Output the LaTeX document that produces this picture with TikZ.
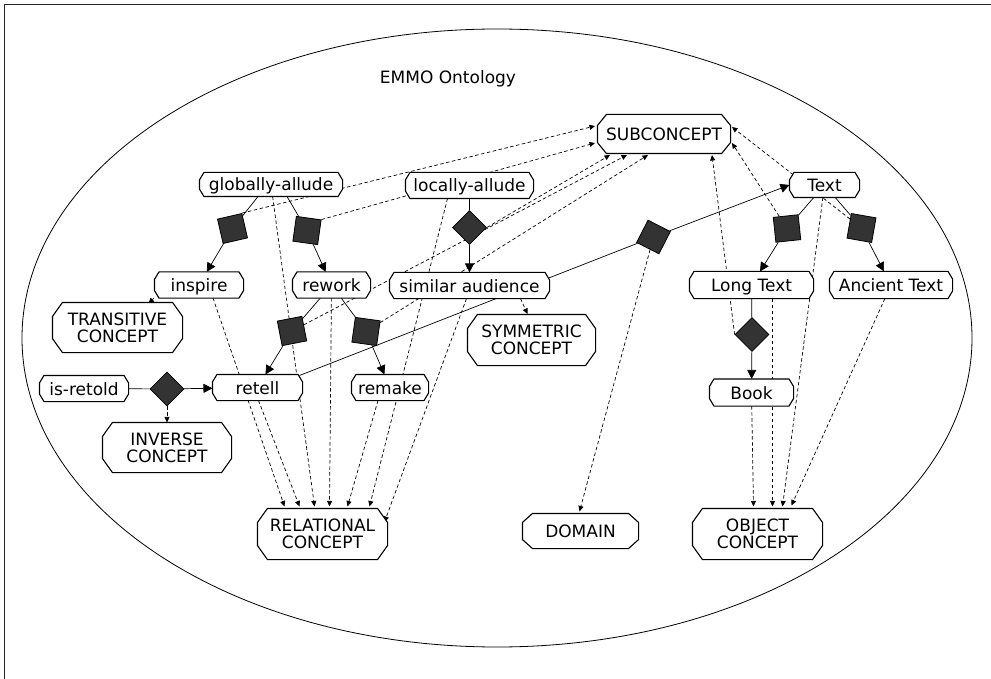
\documentclass[tikz,border=0pt]{standalone}
\usepackage{fontspec}
\setmainfont{DejaVu Sans}
\usetikzlibrary{shapes.geometric,arrows.meta,calc,backgrounds}

% A rectangle with bevelled corners; the bevel extents are set by
% /pgf/bevel x and /pgf/bevel y.
\pgfkeys{/pgf/bevel x/.initial=4.5pt, /pgf/bevel y/.initial=7pt}
\makeatletter
\pgfdeclareshape{bevelbox}{%
  \inheritsavedanchors[from=rectangle]%
  \inheritanchorborder[from=rectangle]%
  \inheritanchor[from=rectangle]{center}%
  \inheritanchor[from=rectangle]{north}%
  \inheritanchor[from=rectangle]{south}%
  \inheritanchor[from=rectangle]{east}%
  \inheritanchor[from=rectangle]{west}%
  \inheritanchor[from=rectangle]{north east}%
  \inheritanchor[from=rectangle]{north west}%
  \inheritanchor[from=rectangle]{south east}%
  \inheritanchor[from=rectangle]{south west}%
  \inheritanchor[from=rectangle]{text}%
  \inheritanchor[from=rectangle]{base}%
  \inheritanchor[from=rectangle]{mid}%
  \saveddimen\bevx{\pgfmathsetlength\pgf@x{\pgfkeysvalueof{/pgf/bevel x}}}%
  \saveddimen\bevy{\pgfmathsetlength\pgf@x{\pgfkeysvalueof{/pgf/bevel y}}}%
  \backgroundpath{%
    \southwest \edef\bbxa{\the\pgf@x}\edef\bbya{\the\pgf@y}%
    \northeast \edef\bbxb{\the\pgf@x}\edef\bbyb{\the\pgf@y}%
    \pgfmathsetlengthmacro\bbxc{\bbxa+\bevx}%
    \pgfmathsetlengthmacro\bbxd{\bbxb-\bevx}%
    \pgfmathsetlengthmacro\bbyc{\bbya+\bevy}%
    \pgfmathsetlengthmacro\bbyd{\bbyb-\bevy}%
    \pgfpathmoveto{\pgfpoint{\bbxc}{\bbya}}%
    \pgfpathlineto{\pgfpoint{\bbxd}{\bbya}}%
    \pgfpathlineto{\pgfpoint{\bbxb}{\bbyc}}%
    \pgfpathlineto{\pgfpoint{\bbxb}{\bbyd}}%
    \pgfpathlineto{\pgfpoint{\bbxd}{\bbyb}}%
    \pgfpathlineto{\pgfpoint{\bbxc}{\bbyb}}%
    \pgfpathlineto{\pgfpoint{\bbxa}{\bbyd}}%
    \pgfpathlineto{\pgfpoint{\bbxa}{\bbyc}}%
    \pgfpathclose
  }%
}
\makeatother

\begin{document}
\begin{tikzpicture}[x=1pt,y=-1pt,
  font=\fontsize{17}{17}\selectfont,
  sz/.style 2 args={minimum width=#1pt, minimum height=#2pt},
  bev/.style 2 args={/pgf/bevel x=#1pt, /pgf/bevel y=#2pt},
  box/.style={bevelbox, draw, line width=1.1pt, fill=white, inner sep=0pt,
    bev={4.5}{7.5}, text height=13pt, text depth=0pt},
  bigbox/.style={bevelbox, draw, line width=1.1pt, fill=white, inner sep=0pt,
    align=center, bev={10}{14}},
  relsq/.style={rectangle, draw, line width=0.8pt, fill=black!80, minimum size=25pt, inner sep=0pt},
  reldia/.style={diamond, draw, line width=0.8pt, fill=black!80, minimum width=34pt, minimum height=34pt, inner sep=0pt},
  link/.style={line width=0.7pt},
  linkarr/.style={link, -{Triangle[length=9pt,width=9pt]}},
  dep/.style={line width=0.7pt, dash pattern=on 3.5pt off 2.5pt, -{Triangle[length=5.5pt,width=5pt]}},
]
\useasboundingbox (0,0) rectangle (991,679);

% frame
\draw[line width=1.6pt, black!85] (4.5,679) -- (4.5,4.5) -- (991,4.5);

% concept nodes
\node (title) at (448,79) {EMMO Ontology};
\node[bigbox, sz={132}{38}, bev={9}{11}] (sub) at (664,134) {SUBCONCEPT};
\node[box, sz={142}{23}] (ga) at (271,184.5) {globally-allude};
\node[box, sz={127}{25}] (la) at (469.5,185.5) {locally-allude};
\node[box, sz={69}{24}] (tx) at (824.5,185) {Text};
\node[box, sz={88}{25}] (insp) at (199,285) {inspire};
\node[box, sz={77}{25}] (rw) at (331.5,285) {rework};
\node[box, sz={159}{25}] (sa) at (469.5,285.5) {similar audience};
\node[box, sz={123}{26}] (lt) at (751.5,285) {Long Text};
\node[box, sz={122}{26}] (anc) at (891,285) {Ancient Text};
\node[bigbox, sz={129}{49}] (tc) at (117.5,327.5) {TRANSITIVE\\CONCEPT};
\node[bigbox, sz={127}{50}] (sym) at (531.5,340) {SYMMETRIC\\CONCEPT};
\node[box, sz={88}{25}] (isr) at (84,388.5) {is-retold};
\node[box, sz={89}{25}] (rt) at (257.5,387.5) {retell};
\node[box, sz={76}{25}] (rmk) at (390,387.5) {remake};
\node[box, sz={83}{26}] (bk) at (751.5,392.5) {Book};
\node[bigbox, sz={128}{49}] (inv) at (167,447.5) {INVERSE\\CONCEPT};
\node[bigbox, sz={129}{50}] (rc) at (322.5,534) {RELATIONAL\\CONCEPT};
\node[bigbox, sz={115}{34}, bev={10}{9}] (dom) at (580.5,531) {DOMAIN};
\node[bigbox, sz={129}{50}] (oc) at (757.5,534) {OBJECT\\CONCEPT};

% relation nodes
\node[relsq, rotate=13] (g1) at (232.5,228.5) {};
\node[relsq, rotate=-8] (g2) at (307,230.5) {};
\node[relsq, rotate=11] (r1) at (292,331) {};
\node[relsq, rotate=-8] (r2) at (366,331.5) {};
\node[relsq, rotate=6] (t1) at (787,228.5) {};
\node[relsq, rotate=-10] (t2) at (861.5,228) {};
\node[relsq, rotate=-27] (bq) at (653.5,237) {};
\node[reldia] (d1) at (469.5,227.5) {};
\node[reldia] (d2) at (167,389) {};
\node[reldia] (d3) at (752,334.5) {};

\begin{scope}[on background layer]
  \draw[line width=0.8pt] (497,338) ellipse [x radius=475pt, y radius=309pt];

  % relation links
  \draw[link] ($(ga.south)+(-13,0)$) -- (g1);
  \draw[linkarr] (g1) -- (insp);
  \draw[link] ($(ga.south)+(16,0)$) -- (g2);
  \draw[linkarr] (g2) -- (rw);
  \draw[link] (la) -- (d1);
  \draw[linkarr] (d1) -- (sa);
  \draw[link] (rw) -- (r1);
  \draw[linkarr] (r1) -- (rt);
  \draw[link] (rw) -- (r2);
  \draw[linkarr] (r2) -- (rmk);
  \draw[link] (isr) -- (d2);
  \draw[linkarr] (d2) -- (rt);
  \draw[link] ($(rt.center)+(42,-12)$) -- (bq);
  \draw[linkarr] (bq) -- (tx.west);
  \draw[link] (tx) -- (t1);
  \draw[linkarr] (t1) -- (lt);
  \draw[link] (tx) -- (t2);
  \draw[linkarr] (t2) -- (anc);
  \draw[link] (lt) -- (d3);
  \draw[linkarr] (d3) -- (bk);

  % subconcept links
  \draw[dep] (g1.north east) -- ($(sub.center)+(-69,-8)$);
  \draw[dep] (g2.north east) -- ($(sub.center)+(-69,9)$);
  \draw[dep] (d1.east) -- ($(sub.center)+(-54,21)$);
  \draw[dep] (r1) -- ($(sub.center)+(-37,21)$);
  \draw[dep] (r2) -- ($(sub.center)+(-16,21)$);
  \draw[dep] (d3.west) -- ($(sub.center)+(48,21)$);
  \draw[dep] (t1) -- ($(sub.center)+(68,9)$);
  \draw[dep] (t2) -- ($(sub.center)+(68,-7)$);

  % relational concept links
  \draw[dep] ($(insp.south)+(14,0)$) -- ($(rc.north)+(-38,-2)$);
  \draw[dep] ($(rt.south)+(1,0)$) -- ($(rc.north)+(-23,-2)$);
  \draw[dep] (ga) -- ($(rc.north)+(-8,-2)$);
  \draw[dep] (rw) -- ($(rc.north)+(7,-2)$);
  \draw[dep] ($(rmk.south)+(-12,0)$) -- ($(rc.north)+(25,-2)$);
  \draw[dep] ($(la.south)+(-22,0)$) -- ($(rc.north)+(47,-2)$);
  \draw[dep] ($(sa.south)+(-3,0)$) -- ($(rc.center)+(62,-12)$);

  % property links
  \draw[dep] ($(insp.center)+(-45,13)$) -- ($(tc.center)+(31,-24)$);
  \draw[dep] ($(sa.center)+(51,13)$) -- ($(sym.center)+(-4,-26)$);
  \draw[dep] (d2) -- (inv);
  \draw[dep] (bq) -- ($(dom.north)+(-1,-2)$);

  % object concept links
  \draw[dep] (bk) -- ($(oc.north)+(-4,-2)$);
  \draw[dep] ($(lt.south)+(21,0)$) -- ($(oc.north)+(15,-2)$);
  \draw[dep] (tx) -- ($(oc.north)+(25,-2)$);
  \draw[dep] (anc) -- ($(oc.north)+(34,-3)$);
\end{scope}
\end{tikzpicture}
\end{document}
